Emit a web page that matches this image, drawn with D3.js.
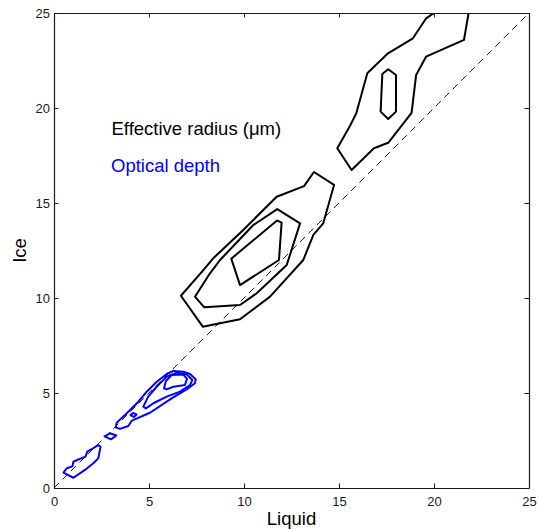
<!DOCTYPE html>
<html>
<head>
<meta charset="utf-8">
<script src="https://cdn.jsdelivr.net/npm/d3@7"></script>
<style>
  html, body { margin: 0; padding: 0; background: #fff; }
  svg { display: block; font-family: "Liberation Sans", Arial, Helvetica, sans-serif; }
</style>
</head>
<body>
<div id="chart"></div>
<script>
// axis ticks (same for liquid and ice)
const tickValues = [0, 5, 10, 15, 20, 25];

// effective radius contours, points are [liquid, ice]
const reffOuterLow = [[6.68, 10.12], [7.83, 8.49], [9.79, 8.88], [11.37, 10.07], [13.12, 12.0], [13.65, 13.32],
  [14.17, 13.93], [14.74, 15.95], [13.68, 16.63], [13.16, 15.89], [11.72, 15.33], [9.96, 13.58],
  [8.38, 12.09], [7.86, 11.47]];
const reffMidLow = [[7.42, 10.07], [7.91, 9.51], [9.79, 9.63], [10.67, 10.25], [12.25, 11.74], [12.95, 13.93],
  [11.75, 14.68], [10.49, 13.84], [8.74, 12.0], [8.21, 11.3]];
const reffInnerLow = [[9.33, 12.07], [9.79, 10.68], [11.84, 12.0], [11.98, 13.97], [11.74, 14.08]];
const reffOuterHigh = [[20.0, 25.0], [19.59, 24.72], [18.89, 23.67], [17.58, 22.88], [16.49, 21.83], [15.91, 19.72],
  [15.56, 19.02], [14.91, 17.88], [15.66, 16.74], [16.84, 17.88], [17.59, 18.17], [18.82, 19.74],
  [19.06, 21.74], [19.58, 22.70], [21.58, 23.59], [21.82, 25.0]];
const reffInnerHigh = [[17.59, 22.04], [18.0, 21.74], [18.0, 19.81], [17.59, 19.42], [17.19, 19.81], [17.28, 21.79]];

// optical depth contours
const tauOuter = [[3.25, 3.19], [3.47, 3.11], [3.91, 3.26], [4.1, 3.55], [5.05, 3.96], [6.19, 4.72], [6.98, 5.19],
  [7.42, 5.51], [7.46, 5.72], [7.16, 6.0], [6.8, 6.12], [6.28, 6.16], [5.93, 6.0], [5.41, 5.59],
  [4.88, 5.07], [4.44, 4.54], [3.83, 3.93], [3.3, 3.44]];
const tauMid = [[4.7, 4.28], [4.96, 4.81], [5.4, 5.33], [5.93, 5.86], [6.46, 6.07], [6.98, 5.98], [7.28, 5.68],
  [7.16, 5.42], [6.63, 5.07], [5.93, 4.81], [5.23, 4.46], [4.84, 4.19]];
const tauInner = [[5.79, 5.25], [5.89, 5.63], [6.19, 5.95], [6.8, 5.98], [7.0, 5.74], [6.89, 5.42], [6.28, 5.33],
  [5.93, 5.19]];
const tauIslandA = [[4.03, 3.84], [4.16, 3.95], [4.34, 3.87], [4.21, 3.73]];
const tauIslandB = [[2.66, 2.72], [2.95, 2.88], [3.28, 2.76], [3.0, 2.56]];
const tauLow = [[0.5, 0.81], [1.02, 0.54], [1.63, 0.95], [2.07, 1.3], [2.33, 1.56], [2.45, 2.18], [2.32, 2.26],
  [1.98, 2.04], [1.75, 1.91], [1.66, 1.65], [1.28, 1.5], [1.02, 1.38], [0.97, 1.14], [0.67, 1.04]];

const reffContours = [reffOuterLow, reffMidLow, reffInnerLow, reffInnerHigh];
const tauContours = [tauOuter, tauMid, tauInner, tauIslandA, tauIslandB, tauLow];

const width = 538, height = 529;
const margin = { top: 13, right: 9, bottom: 41, left: 54 };

const svg = d3.select("#chart").append("svg")
    .attr("width", width)
    .attr("height", height);

const x = d3.scaleLinear().domain([0, 25]).range([margin.left, width - margin.right]);
const y = d3.scaleLinear().domain([0, 25]).range([height - margin.bottom, margin.top]);

svg.append("defs").append("clipPath")
    .attr("id", "plot-clip")
  .append("rect")
    .attr("x", x(0))
    .attr("y", y(25))
    .attr("width", x(25) - x(0))
    .attr("height", y(0) - y(25));

const plot = svg.append("g").attr("clip-path", "url(#plot-clip)");

// one-to-one line
plot.append("line")
    .attr("x1", x(0)).attr("y1", y(0))
    .attr("x2", x(25)).attr("y2", y(25))
    .attr("stroke", "#000")
    .attr("stroke-width", 0.9)
    .attr("stroke-dasharray", "7,5");

const closedLine = d3.line().x(d => x(d[0])).y(d => y(d[1])).curve(d3.curveLinearClosed);
const openLine = d3.line().x(d => x(d[0])).y(d => y(d[1]));

plot.selectAll(".reff")
  .data(reffContours)
  .join("path")
    .attr("class", "reff")
    .attr("d", closedLine)
    .attr("fill", "none")
    .attr("stroke", "#000")
    .attr("stroke-width", 2)
    .attr("stroke-linejoin", "round");

plot.append("path")
    .attr("d", openLine(reffOuterHigh))
    .attr("fill", "none")
    .attr("stroke", "#000")
    .attr("stroke-width", 2)
    .attr("stroke-linejoin", "round");

plot.selectAll(".tau")
  .data(tauContours)
  .join("path")
    .attr("class", "tau")
    .attr("d", closedLine)
    .attr("fill", "none")
    .attr("stroke", "#0000ff")
    .attr("stroke-width", 2)
    .attr("stroke-linejoin", "round");

// axes, ticks pointing inward on all four sides
const tick = -4.5;
const styleAxis = g => {
  g.select(".domain").attr("stroke", "#1a1a1a").attr("stroke-width", 1.2);
  g.selectAll(".tick line").attr("stroke", "#1a1a1a").attr("stroke-width", 1);
  g.selectAll(".tick text").attr("fill", "#1a1a1a").style("font-size", "13px");
};

svg.append("g")
    .attr("transform", `translate(0,${y(0)})`)
    .call(d3.axisBottom(x).tickValues(tickValues).tickSizeInner(tick).tickSizeOuter(0).tickPadding(8.5))
    .call(styleAxis);

svg.append("g")
    .attr("transform", `translate(${x(0)},0)`)
    .call(d3.axisLeft(y).tickValues(tickValues).tickSizeInner(tick).tickSizeOuter(0).tickPadding(4))
    .call(styleAxis);

svg.append("g")
    .attr("transform", `translate(0,${y(25)})`)
    .call(d3.axisTop(x).tickValues(tickValues).tickSizeInner(tick).tickSizeOuter(0).tickFormat(""))
    .call(styleAxis);

svg.append("g")
    .attr("transform", `translate(${x(25)},0)`)
    .call(d3.axisRight(y).tickValues(tickValues).tickSizeInner(tick).tickSizeOuter(0).tickFormat(""))
    .call(styleAxis);

// axis titles
svg.append("text")
    .attr("x", (x(0) + x(25)) / 2)
    .attr("y", 524.5)
    .attr("text-anchor", "middle")
    .style("font-size", "18.5px")
    .text("Liquid");

svg.append("text")
    .attr("transform", `translate(25.5,${(y(0) + y(25)) / 2}) rotate(-90)`)
    .attr("text-anchor", "middle")
    .style("font-size", "18.5px")
    .text("Ice");

// labels inside the plot
svg.append("text")
    .attr("x", 111.5)
    .attr("y", 134.5)
    .style("font-size", "18.5px")
    .attr("fill", "#000")
    .text("Effective radius (\u03bcm)");

svg.append("text")
    .attr("x", 111)
    .attr("y", 171.5)
    .style("font-size", "18.5px")
    .attr("fill", "#0000ff")
    .text("Optical depth");
</script>
</body>
</html>
